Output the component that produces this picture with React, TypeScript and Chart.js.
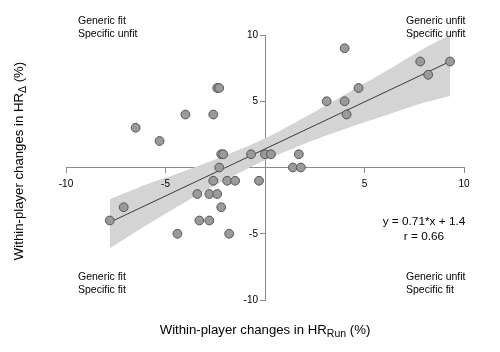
import React, { useEffect, useRef } from "react";
import { Chart, registerables } from "chart.js";

Chart.register(...registerables);

// Scatter data (within-player changes, %)
const pointsX = [
  -6.5, -5.3, -4.0, -2.6, -2.4, -2.3, -2.2, -2.1, -2.3, -0.7, 0.0, 0.3,
  -2.6, -1.9, -1.5, -0.3,
  4.0, 7.8, 9.3, 8.2, 4.7, 3.1, 4.0, 4.1, 1.7, 1.4, 1.8,
  -3.4, -2.8, -2.4, -2.2, -3.3, -2.8, -4.4, -1.8, -7.1, -7.8,
];
const pointsY = [
  3, 2, 4, 4, 6, 6, 1, 1, 0, 1, 1, 1,
  -1, -1, -1, -1,
  9, 8, 8, 7, 6, 5, 5, 4, 1, 0, 0,
  -2, -2, -2, -3, -4, -4, -5, -5, -3, -4,
];

// Regression line y = 0.71*x + 1.4 over the data range
const fitSlope = 0.71;
const fitIntercept = 1.4;
const fitRangeX = [-7.8, 9.3];

// Confidence band edges
const bandX = [-7.8, -6, -4, -2, 0, 2, 4, 6, 8, 9.3];
const bandUpper = [-2.4, -1.3, -0.25, 0.9, 2.2, 3.8, 5.5, 7.2, 9.0, 10.0];
const bandLower = [-6.1, -4.4, -2.6, -0.95, 0.55, 1.8, 2.9, 3.9, 4.9, 5.4];

const axisMin = -10;
const axisMax = 10;
const tickStep = 5;
const xTickLabels = ["-10", "-5", "5", "10"];
const yTickLabels = ["10", "5", "-5", "-10"];

const quadrantLabels = [
  ["Generic fit", "Specific unfit"],
  ["Generic unfit", "Specific unfit"],
  ["Generic fit", "Specific fit"],
  ["Generic unfit", "Specific fit"],
];
const equationText = "y = 0.71*x + 1.4";
const corrText = "r = 0.66";
const xTitle = ["Within-player changes in HR", "Run", " (%)"];
const yTitle = ["Within-player changes in HR", "Δ", " (%)"];

const FONT = "'Liberation Sans', Arial, Helvetica, sans-serif";
const AXIS_COLOR = "#8a8a8a";

function drawSubTitle(ctx: CanvasRenderingContext2D, parts: string[], cx: number, cy: number) {
  const mainFont = `13.2px ${FONT}`;
  const subFont = `10.5px ${FONT}`;
  ctx.font = mainFont;
  const w1 = ctx.measureText(parts[0]).width;
  const w3 = ctx.measureText(parts[2]).width;
  ctx.font = subFont;
  const w2 = ctx.measureText(parts[1]).width;
  const total = w1 + w2 + w3;
  let x = cx - total / 2;
  ctx.textAlign = "left";
  ctx.textBaseline = "alphabetic";
  const base = cy + 4.5;
  ctx.font = mainFont;
  ctx.fillText(parts[0], x, base);
  x += w1;
  ctx.font = subFont;
  ctx.fillText(parts[1], x, base + 3.5);
  x += w2;
  ctx.font = mainFont;
  ctx.fillText(parts[2], x, base);
}

const annotationPlugin = {
  id: "annotations",
  afterDraw(chart: any) {
    const ctx: CanvasRenderingContext2D = chart.ctx;
    const xs = chart.scales.x;
    const ys = chart.scales.y;
    const axisX = Math.round(xs.getPixelForValue(0));
    const axisY = Math.round(ys.getPixelForValue(0));
    ctx.save();
    ctx.fillStyle = "#000";

    // tick labels
    ctx.font = `10px ${FONT}`;
    ctx.textAlign = "center";
    ctx.textBaseline = "middle";
    xTickLabels.forEach((t) => {
      ctx.fillText(t, xs.getPixelForValue(Number(t)), axisY + 16);
    });
    ctx.textAlign = "right";
    yTickLabels.forEach((t) => {
      ctx.fillText(t, axisX - 7, ys.getPixelForValue(Number(t)));
    });

    ctx.font = `10.5px ${FONT}`;
    ctx.textAlign = "left";
    ctx.textBaseline = "middle";
    const lx = 78;
    const rx = 406;
    const ty = [21, 34];
    const by = [277, 290];
    const pos = [
      [lx, ty],
      [rx, ty],
      [lx, by],
      [rx, by],
    ] as [number, number[]][];
    quadrantLabels.forEach((lines, i) => {
      const [x, yy] = pos[i];
      lines.forEach((t, j) => ctx.fillText(t, x, yy[j]));
    });

    ctx.font = `11.8px ${FONT}`;
    ctx.textAlign = "center";
    ctx.fillText(equationText, 424, 222);
    ctx.fillText(corrText, 424, 237);

    drawSubTitle(ctx, xTitle, 265, 329);

    ctx.save();
    ctx.translate(18, 161);
    ctx.rotate(-Math.PI / 2);
    drawSubTitle(ctx, yTitle, 0, 0);
    ctx.restore();

    ctx.restore();
  },
};

export default function App() {
  const canvasRef = useRef<HTMLCanvasElement | null>(null);

  useEffect(() => {
    if (!canvasRef.current) return;
    const scatter = pointsX.map((x, i) => ({ x, y: pointsY[i] }));
    const fitLine = fitRangeX.map((x) => ({ x, y: fitSlope * x + fitIntercept }));
    const upper = bandX.map((x, i) => ({ x, y: bandUpper[i] }));
    const lower = bandX.map((x, i) => ({ x, y: bandLower[i] }));

    const axisOpts = (pos: any) => ({
      type: "linear",
      min: axisMin,
      max: axisMax,
      position: pos,
      z: 1,
      border: { display: true, color: AXIS_COLOR, width: 1 },
      grid: {
        display: true,
        drawOnChartArea: false,
        drawTicks: true,
        tickLength: 5,
        color: AXIS_COLOR,
      },
      ticks: {
        stepSize: tickStep,
        display: false,
        autoSkip: false,
      },
    });

    const chart = new Chart(canvasRef.current, {
      type: "line",
      data: {
        datasets: [
          {
            data: scatter,
            showLine: false,
            pointRadius: 4.4,
            pointBackgroundColor: "#9a9a9a",
            pointBorderColor: "#555555",
            pointBorderWidth: 1,
            order: 0,
          },
          {
            data: fitLine,
            borderColor: "#3a3a3a",
            borderWidth: 1,
            pointRadius: 0,
            fill: false,
            order: 1,
          },
          {
            data: upper,
            borderWidth: 0,
            borderColor: "rgba(0,0,0,0)",
            backgroundColor: "#d4d4d4",
            pointRadius: 0,
            fill: "+1",
            tension: 0.3,
            order: 2,
          },
          {
            data: lower,
            borderWidth: 0,
            borderColor: "rgba(0,0,0,0)",
            pointRadius: 0,
            fill: false,
            tension: 0.3,
            order: 3,
          },
        ] as any,
      },
      options: {
        animation: false,
        responsive: false,
        maintainAspectRatio: false,
        layout: { padding: { left: 66, right: 36, top: 35, bottom: 52 } },
        plugins: {
          legend: { display: false },
          tooltip: { enabled: false },
          title: { display: false },
        },
        scales: {
          x: axisOpts({ y: 0 }) as any,
          y: axisOpts({ x: 0 }) as any,
        },
      },
      plugins: [annotationPlugin],
    });
    return () => chart.destroy();
  }, []);

  return (
    <div style={{ position: "absolute", left: 0, top: 0, width: 500, height: 352, background: "#fff" }}>
      <canvas ref={canvasRef} width={500} height={352} style={{ display: "block" }} />
    </div>
  );
}
